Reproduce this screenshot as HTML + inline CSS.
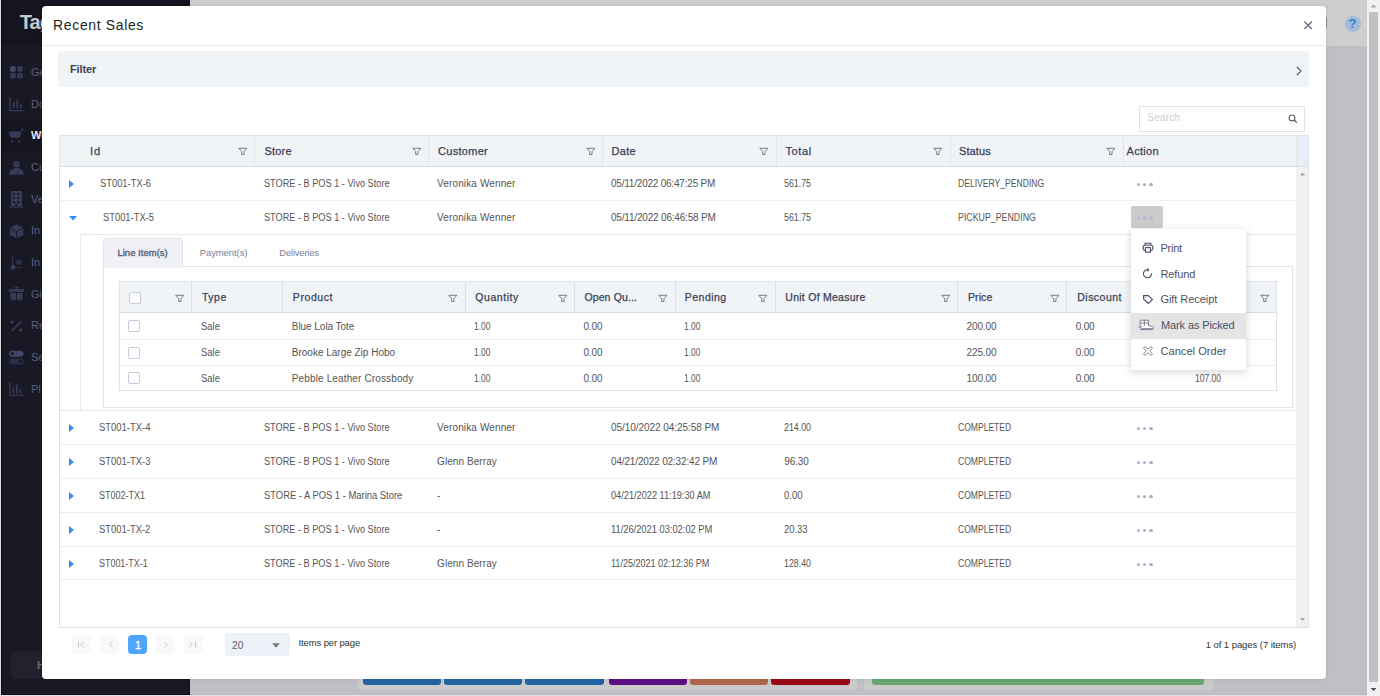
<!DOCTYPE html>
<html><head><meta charset="utf-8"><title>Recent Sales</title>
<style>
*{box-sizing:border-box;margin:0;padding:0}
html,body{width:1380px;height:696px;overflow:hidden;background:#bfc0c5;font-family:"Liberation Sans",sans-serif}
.a{position:absolute}
.t{position:absolute;white-space:nowrap;font-family:"Liberation Sans",sans-serif}
.hl{position:absolute;height:1px}
.vl{position:absolute;width:1px}
.fi{position:absolute;width:10px;height:9px}
.cb{position:absolute;width:12px;height:12px;border:1px solid #c9cbdc;border-radius:2px;background:#fff}
.dot{position:absolute;width:3.4px;height:3.4px;border-radius:50%;background:#aeaec2}
.pg{position:absolute;top:635px;width:19px;height:19px;border-radius:4px;background:#f9f9f9}
</style></head><body>
<!-- ============ background app (under overlay) ============ -->
<div class="a" style="left:0;top:0;width:190px;height:696px;background:#191925"></div>
<div class="a" style="left:0;top:0;width:190px;height:46px;background:#141520"></div>
<div class="a" style="left:0;top:0;width:1px;height:696px;background:#dcdee2"></div>
<div class="a" style="left:1px;top:0;width:1px;height:695px;background:#0a0a14"></div>
<div class="a" style="left:189px;top:46px;width:1px;height:649px;background:#0f0f19"></div>
<div class="a" style="left:1px;top:694px;width:189px;height:1px;background:#0a0a14"></div>
<div class="a" style="left:190px;top:694px;width:1177px;height:1px;background:#b8b9be"></div>
<div class="a" style="left:2px;top:121px;width:187px;height:31px;background:#161620"></div>
<div class="t" style="left:19.8px;top:11px;font-size:20px;font-weight:700;color:#c9c9cc;line-height:23px;letter-spacing:-1px">Tag</div>
<!-- sidebar icons -->
<svg class="a" style="left:0;top:0" width="30" height="410" viewBox="0 0 30 410">
 <g fill="#373957">
  <rect x="10" y="66" width="5.8" height="5.8" rx="1.8" fill="#43456a"/><rect x="17.2" y="66" width="5.8" height="5.8" rx="1.8"/><rect x="10" y="72.8" width="5.8" height="5.8" rx="1.8"/><rect x="17.2" y="72.8" width="5.8" height="5.8" rx="1.8"/>
  <path d="M9.3 97h1.3v13h13.2v1.3H9.3z M13 102h1.6v6.5H13z M16.5 99.5h1.6v9H16.5z M20 104h1.6v4.5H20z"/>
  <path d="M8.8 131.5h12.6l-1.6 6.3h-9.4z M21.2 131.8l1.2-2.6h1.3" /><path d="M21.3 131.5l1-2.3h1.5" stroke="#373957" stroke-width="1.1" fill="none"/><circle cx="12" cy="141.6" r="1.2"/><circle cx="19" cy="141.6" r="1.2"/>
  <circle cx="16.5" cy="164.2" r="3.3"/><path d="M9.2 174.7c0-4.4 3.2-6.6 7.3-6.6s7.3 2.2 7.3 6.6z"/>
  <path d="M11 191h11v15.4h-11z" /><path d="M9.8 206.4h13.5v1.2H9.8z"/>
  <g fill="#191925"><rect x="13" y="193" width="2" height="2"/><rect x="17.5" y="193" width="2" height="2"/><rect x="13" y="197" width="2" height="2"/><rect x="17.5" y="197" width="2" height="2"/><rect x="13" y="201" width="2" height="2"/><rect x="17.5" y="201" width="2" height="2"/><rect x="15.2" y="203.5" width="2.2" height="3"/></g>
  <path d="M16.5 224.5l6.8 3.6v6.8l-6.8 3.4-6.8-3.4v-6.8z"/><path d="M9.7 228.1l6.8 3.5 6.8-3.5M16.5 231.6v6.6" stroke="#191925" stroke-width=".9" fill="none"/>
  <rect x="12" y="255.5" width="1.2" height="11" fill="#2e2f4a"/><circle cx="13" cy="267.3" r="2.4" fill="#3d3f62"/><circle cx="19" cy="262" r="2.8" fill="#2e2f4a"/><rect x="15" y="267" width="7" height="1" fill="#2e2f4a"/>
  <path d="M9.2 289h14.6v3H9.2z M10.5 293h5.4v7.2h-5.4z M17 293h5.5v7.2H17z M14 287l2.5 2 2.5-2" />
  <path d="M11 330.5l9.8-9.8 1.2 1.2-9.8 9.8z"/><circle cx="12" cy="322" r="1.6"/><circle cx="20.6" cy="330.2" r="1.6"/>
  <rect x="9.2" y="350.7" width="14.3" height="6" rx="3" fill="#42446a"/><circle cx="12.4" cy="353.7" r="1.6" fill="#191925"/><rect x="9.2" y="358.4" width="14.3" height="6" rx="3" fill="#2a2b45"/><circle cx="20.3" cy="361.4" r="1.6" fill="#191925"/>
  <path d="M9.2 381.7h1.3v13h13v1.3H9.2z M12.6 387h1.6v6.5h-1.6z M16 384.5h1.6v9H16z M19.4 388.5h1.6v5h-1.6z"/>
 </g>
</svg>
<div class="t" style="left:31px;top:66px;font-size:11px;line-height:13px;color:#5b5e7c">Ge</div>
<div class="t" style="left:31px;top:98px;font-size:11px;line-height:13px;color:#5b5e7c">Do</div>
<div class="t" style="left:31px;top:129px;font-size:11px;line-height:13px;font-weight:700;color:#e6e6ea">Wo</div>
<div class="t" style="left:31px;top:161px;font-size:11px;line-height:13px;color:#5b5e7c">Cu</div>
<div class="t" style="left:31px;top:193px;font-size:11px;line-height:13px;color:#5b5e7c">Ve</div>
<div class="t" style="left:31px;top:224px;font-size:11px;line-height:13px;color:#5b5e7c">In</div>
<div class="t" style="left:31px;top:256px;font-size:11px;line-height:13px;color:#5b5e7c">In</div>
<div class="t" style="left:31px;top:288px;font-size:11px;line-height:13px;color:#5b5e7c">Gi</div>
<div class="t" style="left:31px;top:319px;font-size:11px;line-height:13px;color:#5b5e7c">Re</div>
<div class="t" style="left:31px;top:351px;font-size:11px;line-height:13px;color:#5b5e7c">Se</div>
<div class="t" style="left:31px;top:383px;font-size:11px;line-height:13px;color:#5b5e7c">Pl</div>
<div class="a" style="left:11px;top:651px;width:60px;height:28px;border-radius:4px;background:#22222e"></div>
<div class="t" style="left:37px;top:659px;font-size:11px;line-height:13px;font-weight:700;color:#6a6a75">H</div>
<!-- top bar -->
<div class="a" style="left:190px;top:0;width:1177px;height:46px;background:#cecece"></div>
<div class="a" style="left:190px;top:46px;width:1177px;height:1px;background:#bbbcc2"></div>
<div class="a" style="left:1326px;top:17px;width:1.3px;height:11px;border-radius:0 2px 2px 0;background:#8d8f95"></div>
<div class="a" style="left:1344.5px;top:15.5px;width:16px;height:16px;border-radius:50%;background:#a5bbd6"></div>
<div class="t" style="left:1348.5px;top:16px;font-size:13px;line-height:15px;font-weight:700;color:#2a7fdc">?</div>
<!-- bottom panels -->
<div class="a" style="left:358px;top:660px;width:499px;height:30px;border-radius:4px;background:#cacaca"></div>
<div class="a" style="left:363px;top:660px;width:78px;height:25px;border-radius:3px;background:#2264a4"></div>
<div class="a" style="left:444px;top:660px;width:78px;height:25px;border-radius:3px;background:#2264a4"></div>
<div class="a" style="left:525px;top:660px;width:79px;height:25px;border-radius:3px;background:#2264a4"></div>
<div class="a" style="left:609px;top:660px;width:78px;height:25px;border-radius:3px;background:#5c0f84"></div>
<div class="a" style="left:690px;top:660px;width:78px;height:25px;border-radius:3px;background:#b0684a"></div>
<div class="a" style="left:771px;top:660px;width:79px;height:25px;border-radius:3px;background:#990a17"></div>
<div class="a" style="left:864px;top:660px;width:349px;height:30px;border-radius:4px;background:#cacaca"></div>
<div class="a" style="left:872px;top:660px;width:332px;height:25px;border-radius:3px;background:#69a673"></div>
<div class="a" style="left:0;top:695px;width:1367px;height:1px;background:#e3e4e8"></div>
<!-- page scrollbar -->
<div class="a" style="left:1367px;top:0;width:13px;height:696px;background:#f1f1f1"></div>
<div class="a" style="left:1369px;top:12px;width:9px;height:670px;background:#c1c1c1"></div>
<svg class="a" style="left:1367px;top:0" width="13" height="696"><path d="M3.5 7.5h6l-3-3z" fill="#a3a3a3"/><path d="M3.5 688h6l-3 3z" fill="#505050"/></svg>

<!-- ============ modal ============ -->
<div class="a" style="left:42px;top:6px;width:1284px;height:673px;background:#fff;border-radius:4px;box-shadow:0 0 4px rgba(0,0,0,.10)"></div>
<div class="hl" style="left:42px;top:45px;width:1284px;background:#e8eaf0"></div>
<svg class="a" style="left:1302px;top:19px" width="12" height="12" viewBox="0 0 12 12"><path d="M2.4 2.4L10 10M10 2.4L2.4 10" stroke="#676a85" stroke-width="1.35"/></svg>
<!-- filter bar -->
<div class="a" style="left:58px;top:51px;width:1251px;height:36px;background:#f0f4f7;border-radius:3px"></div>
<svg class="a" style="left:1294px;top:64px" width="10" height="14" viewBox="0 0 10 14"><path d="M2.8 2.8L7 7l-4.2 4.2" stroke="#3d3f58" stroke-width="1.05" fill="none"/></svg>
<!-- search -->
<div class="a" style="left:1139px;top:106px;width:166px;height:26px;border:1px solid #e3e3e3;background:#fff"></div>
<svg class="a" style="left:1288px;top:114px" width="10" height="10" viewBox="0 0 10 10"><circle cx="4" cy="3.9" r="2.9" stroke="#5c5c5c" stroke-width="1.1" fill="none"/><path d="M6.1 6L8.8 8.6" stroke="#5c5c5c" stroke-width="1.3"/></svg>

<!-- main grid -->
<div class="a" style="left:59px;top:135px;width:1250px;height:493px;border:1px solid #e2e2e2;background:#fff"></div>
<div class="a" style="left:60px;top:136px;width:1237px;height:30px;background:#f0f4f7"></div>
<div class="a" style="left:1297px;top:136px;width:11px;height:30px;background:#e9edf7"></div>
<div class="hl" style="left:60px;top:166px;width:1248px;background:#dcdcdc"></div>
<div class="vl" style="left:254px;top:136px;height:30px;background:#e3e5ea"></div>
<div class="vl" style="left:428px;top:136px;height:30px;background:#e3e5ea"></div>
<div class="vl" style="left:602px;top:136px;height:30px;background:#e3e5ea"></div>
<div class="vl" style="left:776px;top:136px;height:30px;background:#e3e5ea"></div>
<div class="vl" style="left:950px;top:136px;height:30px;background:#e3e5ea"></div>
<div class="vl" style="left:1123px;top:136px;height:30px;background:#e3e5ea"></div>
<div class="vl" style="left:1296px;top:136px;height:30px;background:#e3e5ea"></div>
<!-- grid scrollbar -->
<div class="a" style="left:1296px;top:167px;width:12px;height:460px;background:#f1f1f1"></div>
<svg class="a" style="left:1297px;top:167px" width="11" height="460"><path d="M3 8.5h5l-2.5-3z" fill="#a3a3a3"/><path d="M3 451h5l-2.5 3z" fill="#a3a3a3"/></svg>
<!-- header filter icons -->
<svg class="fi" style="left:237.8px;top:147.2px" width="10" height="9" viewBox="0 0 10 9"><path d="M0.8 1.3H8.9L6 4.5V7.5H3.7V4.5Z" fill="none" stroke="#7b7b7e" stroke-width="1"/></svg>
<svg class="fi" style="left:411.8px;top:147.2px" width="10" height="9" viewBox="0 0 10 9"><path d="M0.8 1.3H8.9L6 4.5V7.5H3.7V4.5Z" fill="none" stroke="#7b7b7e" stroke-width="1"/></svg>
<svg class="fi" style="left:585.8px;top:147.2px" width="10" height="9" viewBox="0 0 10 9"><path d="M0.8 1.3H8.9L6 4.5V7.5H3.7V4.5Z" fill="none" stroke="#7b7b7e" stroke-width="1"/></svg>
<svg class="fi" style="left:759.3px;top:147.2px" width="10" height="9" viewBox="0 0 10 9"><path d="M0.8 1.3H8.9L6 4.5V7.5H3.7V4.5Z" fill="none" stroke="#7b7b7e" stroke-width="1"/></svg>
<svg class="fi" style="left:932.8px;top:147.2px" width="10" height="9" viewBox="0 0 10 9"><path d="M0.8 1.3H8.9L6 4.5V7.5H3.7V4.5Z" fill="none" stroke="#7b7b7e" stroke-width="1"/></svg>
<svg class="fi" style="left:1106.3px;top:147.2px" width="10" height="9" viewBox="0 0 10 9"><path d="M0.8 1.3H8.9L6 4.5V7.5H3.7V4.5Z" fill="none" stroke="#7b7b7e" stroke-width="1"/></svg>
<!-- row lines -->
<div class="hl" style="left:60px;top:200px;width:1236px;background:#eef0f4"></div>
<div class="hl" style="left:80px;top:234px;width:1216px;background:#e6e8ee"></div>
<div class="hl" style="left:60px;top:410px;width:1236px;background:#e6e8ee"></div>
<div class="hl" style="left:60px;top:444px;width:1236px;background:#eceef3"></div>
<div class="hl" style="left:60px;top:478px;width:1236px;background:#eceef3"></div>
<div class="hl" style="left:60px;top:512px;width:1236px;background:#eceef3"></div>
<div class="hl" style="left:60px;top:546px;width:1236px;background:#eceef3"></div>
<div class="hl" style="left:60px;top:579px;width:1236px;background:#eceef3"></div>
<div class="vl" style="left:80px;top:234px;height:176px;background:#e6e8ee"></div>
<!-- expand arrows -->
<svg class="a" style="left:60px;top:166px" width="20" height="420">
 <g fill="#2f8ff5">
  <path d="M9 14l5 4-5 4z"/>
  <path d="M9 50h8l-4 4.6z"/>
  <path d="M9 258l5 4-5 4z"/>
  <path d="M9 292l5 4-5 4z"/>
  <path d="M9 326l5 4-5 4z"/>
  <path d="M9 360l5 4-5 4z"/>
  <path d="M9 394l5 4-5 4z"/>
 </g>
</svg>
<!-- action dots -->
<div class="dot" style="left:1136.65px;top:182.55px"></div>
<div class="dot" style="left:1143.05px;top:182.55px"></div>
<div class="dot" style="left:1149.35px;top:182.55px"></div>
<div class="dot" style="left:1136.65px;top:426.55px"></div>
<div class="dot" style="left:1143.05px;top:426.55px"></div>
<div class="dot" style="left:1149.35px;top:426.55px"></div>
<div class="dot" style="left:1136.65px;top:460.55px"></div>
<div class="dot" style="left:1143.05px;top:460.55px"></div>
<div class="dot" style="left:1149.35px;top:460.55px"></div>
<div class="dot" style="left:1136.65px;top:494.55px"></div>
<div class="dot" style="left:1143.05px;top:494.55px"></div>
<div class="dot" style="left:1149.35px;top:494.55px"></div>
<div class="dot" style="left:1136.65px;top:528.55px"></div>
<div class="dot" style="left:1143.05px;top:528.55px"></div>
<div class="dot" style="left:1149.35px;top:528.55px"></div>
<div class="dot" style="left:1136.65px;top:562.55px"></div>
<div class="dot" style="left:1143.05px;top:562.55px"></div>
<div class="dot" style="left:1149.35px;top:562.55px"></div>

<!-- detail: tabstrip -->
<div class="a" style="left:103px;top:266px;width:1190px;height:142px;border:1px solid #e3e5ec;background:#fff"></div>
<div class="a" style="left:103px;top:238px;width:80px;height:30px;border:1px solid #e3e5ec;border-bottom:none;border-radius:4px 4px 0 0;background:#f0f1f6"></div>
<!-- inner grid -->
<div class="a" style="left:119px;top:281px;width:1158px;height:110px;border:1px solid #e2e2e6;background:#fff"></div>
<div class="a" style="left:120px;top:282px;width:1156px;height:30px;background:#f0f4f7"></div>
<div class="hl" style="left:120px;top:312px;width:1156px;background:#dcdcdf"></div>
<div class="vl" style="left:191px;top:282px;height:30px;background:#dedfe3"></div>
<div class="vl" style="left:282px;top:282px;height:30px;background:#dedfe3"></div>
<div class="vl" style="left:465px;top:282px;height:30px;background:#dedfe3"></div>
<div class="vl" style="left:574px;top:282px;height:30px;background:#dedfe3"></div>
<div class="vl" style="left:675px;top:282px;height:30px;background:#dedfe3"></div>
<div class="vl" style="left:775px;top:282px;height:30px;background:#dedfe3"></div>
<div class="vl" style="left:957px;top:282px;height:30px;background:#dedfe3"></div>
<div class="vl" style="left:1066px;top:282px;height:30px;background:#dedfe3"></div>
<div class="vl" style="left:1183px;top:282px;height:30px;background:#dedfe3"></div>
<svg class="fi" style="left:174.8px;top:293.5px" width="10" height="9" viewBox="0 0 10 9"><path d="M0.8 1.3H8.9L6 4.5V7.5H3.7V4.5Z" fill="none" stroke="#7b7b7e" stroke-width="1"/></svg>
<svg class="fi" style="left:447.8px;top:293.5px" width="10" height="9" viewBox="0 0 10 9"><path d="M0.8 1.3H8.9L6 4.5V7.5H3.7V4.5Z" fill="none" stroke="#7b7b7e" stroke-width="1"/></svg>
<svg class="fi" style="left:557.8px;top:293.5px" width="10" height="9" viewBox="0 0 10 9"><path d="M0.8 1.3H8.9L6 4.5V7.5H3.7V4.5Z" fill="none" stroke="#7b7b7e" stroke-width="1"/></svg>
<svg class="fi" style="left:657.8px;top:293.5px" width="10" height="9" viewBox="0 0 10 9"><path d="M0.8 1.3H8.9L6 4.5V7.5H3.7V4.5Z" fill="none" stroke="#7b7b7e" stroke-width="1"/></svg>
<svg class="fi" style="left:757.8px;top:293.5px" width="10" height="9" viewBox="0 0 10 9"><path d="M0.8 1.3H8.9L6 4.5V7.5H3.7V4.5Z" fill="none" stroke="#7b7b7e" stroke-width="1"/></svg>
<svg class="fi" style="left:940.8px;top:293.5px" width="10" height="9" viewBox="0 0 10 9"><path d="M0.8 1.3H8.9L6 4.5V7.5H3.7V4.5Z" fill="none" stroke="#7b7b7e" stroke-width="1"/></svg>
<svg class="fi" style="left:1050.3px;top:293.5px" width="10" height="9" viewBox="0 0 10 9"><path d="M0.8 1.3H8.9L6 4.5V7.5H3.7V4.5Z" fill="none" stroke="#7b7b7e" stroke-width="1"/></svg>
<svg class="fi" style="left:1173.8px;top:293.5px" width="10" height="9" viewBox="0 0 10 9"><path d="M0.8 1.3H8.9L6 4.5V7.5H3.7V4.5Z" fill="none" stroke="#7b7b7e" stroke-width="1"/></svg>
<svg class="fi" style="left:1260.3px;top:293.5px" width="10" height="9" viewBox="0 0 10 9"><path d="M0.8 1.3H8.9L6 4.5V7.5H3.7V4.5Z" fill="none" stroke="#7b7b7e" stroke-width="1"/></svg>
<div class="hl" style="left:120px;top:339px;width:1156px;background:#eceef3"></div>
<div class="hl" style="left:120px;top:365px;width:1156px;background:#eceef3"></div>
<div class="cb" style="left:129px;top:292px"></div>
<div class="cb" style="left:128px;top:320px"></div>
<div class="cb" style="left:128px;top:347px"></div>
<div class="cb" style="left:128px;top:372px"></div>

<!-- action menu -->
<div class="a" style="left:1131px;top:206px;width:32px;height:22px;border-radius:2px;background:#cbcbcb"></div>
<div class="dot" style="left:1136.7px;top:216.3px;background:#b9b9d0"></div>
<div class="dot" style="left:1143px;top:216.3px;background:#b9b9d0"></div>
<div class="dot" style="left:1149.4px;top:216.3px;background:#b9b9d0"></div>
<div class="a" style="left:1131px;top:229px;width:115px;height:141px;background:#fff;box-shadow:0 2px 8px rgba(0,0,0,.17)"></div>
<div class="a" style="left:1131px;top:313px;width:115px;height:25.5px;background:#e4e4e4"></div>
<svg class="a" style="left:1142px;top:242px" width="12" height="12" viewBox="0 0 12 12" fill="none" stroke="#4a4d63" stroke-width="1.1">
 <path d="M3 3V1.3h5.8V3"/><rect x="1.2" y="3.2" width="9.6" height="5.2" rx="1.6"/><rect x="3.5" y="5.6" width="4.9" height="4.6" fill="#fff"/>
</svg>
<svg class="a" style="left:1142px;top:268px" width="12" height="12" viewBox="0 0 12 12" fill="none" stroke="#4a4d63" stroke-width="1.1">
 <path d="M9.4 5.2a4 4 0 1 1 -3.2 -3.4"/><path d="M5 0.8l1.6 1.1-1.3 1.4"/>
</svg>
<svg class="a" style="left:1142px;top:294px" width="12" height="12" viewBox="0 0 12 12" fill="none" stroke="#4a4d63" stroke-width="1.1">
 <path d="M1.6 5V1.6h4.6l4.2 3.8-4 4.1z"/><circle cx="3.7" cy="3.6" r=".5" fill="#4a4d63" stroke="none"/>
</svg>
<svg class="a" style="left:1138px;top:319px" width="17" height="12" viewBox="0 0 17 12" fill="none" stroke="#6f7183" stroke-width=".9">
 <path d="M2.2 1.2h8.2v6.5H2.2z M6.3 1.2v6.5 M2.2 4h8.2" fill="#fff"/><path d="M0.6 8.2c1.4 .1 2.5 .8 4 1.5h10.6c.6-1 .1-2-1.6-2.3l-3.6-1.1" fill="#fff"/><path d="M2 10.6h12.8"/>
</svg>
<svg class="a" style="left:1142px;top:345px" width="12" height="12" viewBox="0 0 12 12" fill="none" stroke="#6f7183" stroke-width=".9">
 <path d="M1.5 3.2L3.2 1.5 6 4.3 8.8 1.5 10.5 3.2 7.7 6 10.5 8.8 8.8 10.5 6 7.7 3.2 10.5 1.5 8.8 4.3 6Z" stroke-linejoin="round"/>
</svg>

<!-- pager -->
<div class="pg" style="left:72px"></div>
<div class="pg" style="left:100px"></div>
<div class="pg" style="left:128px;background:#4fa4fb"></div>
<div class="pg" style="left:156px"></div>
<div class="pg" style="left:184px"></div>
<svg class="a" style="left:72px;top:635px" width="132" height="19">
 <g fill="none" stroke="#c4c4c4" stroke-width="1">
  <path d="M6.5 6.5v6M12 6.5l-3 3 3 3"/>
  <path d="M40.5 6.5l-3 3 3 3"/>
  <path d="M92.5 6.5l3 3-3 3"/>
  <path d="M117 6.5l3 3-3 3M123.5 6.5v6"/>
 </g>
</svg>
<div class="a" style="left:225px;top:633px;width:65px;height:23px;border-radius:3px;background:#eef2f8"></div>
<svg class="a" style="left:271px;top:642px" width="10" height="7"><path d="M1.2 1.2h7.6l-3.8 4.6z" fill="#7a7a7a"/></svg>

<span class="t" style="left:53.10px;top:17.25px;font-size:14px;line-height:17px;font-weight:400;color:#1e1e1e;letter-spacing:0.630px;">Recent Sales</span>
<span class="t" style="left:70.00px;top:62.69px;font-size:11px;line-height:13px;font-weight:700;color:#3d3f58;letter-spacing:-0.102px;">Filter</span>
<span class="t" style="left:1147.30px;top:112.33px;font-size:10px;line-height:12px;font-weight:400;color:#cdcdcd;letter-spacing:0.215px;">Search</span>
<span class="t" style="left:90.00px;top:144.69px;font-size:11px;line-height:13px;font-weight:400;color:#3b3e57;letter-spacing:0.944px;-webkit-text-stroke:0.25px #3b3e57;">Id</span>
<span class="t" style="left:264.40px;top:144.69px;font-size:11px;line-height:13px;font-weight:400;color:#3b3e57;letter-spacing:0.207px;-webkit-text-stroke:0.25px #3b3e57;">Store</span>
<span class="t" style="left:438.10px;top:144.69px;font-size:11px;line-height:13px;font-weight:400;color:#3b3e57;letter-spacing:0.283px;-webkit-text-stroke:0.25px #3b3e57;">Customer</span>
<span class="t" style="left:611.60px;top:144.69px;font-size:11px;line-height:13px;font-weight:400;color:#3b3e57;letter-spacing:0.294px;-webkit-text-stroke:0.25px #3b3e57;">Date</span>
<span class="t" style="left:785.50px;top:144.69px;font-size:11px;line-height:13px;font-weight:400;color:#3b3e57;letter-spacing:0.602px;-webkit-text-stroke:0.25px #3b3e57;">Total</span>
<span class="t" style="left:959.00px;top:144.69px;font-size:11px;line-height:13px;font-weight:400;color:#3b3e57;letter-spacing:0.103px;-webkit-text-stroke:0.25px #3b3e57;">Status</span>
<span class="t" style="left:1126.60px;top:144.69px;font-size:11px;line-height:13px;font-weight:400;color:#3b3e57;letter-spacing:0.269px;-webkit-text-stroke:0.25px #3b3e57;">Action</span>
<span class="t" style="left:99.50px;top:177.53px;font-size:10px;line-height:12px;font-weight:400;color:#555555;letter-spacing:0.000px;transform:scaleX(0.936);transform-origin:0 0;">ST001-TX-6</span>
<span class="t" style="left:263.70px;top:177.53px;font-size:10px;line-height:12px;font-weight:400;color:#555555;letter-spacing:0.000px;transform:scaleX(0.917);transform-origin:0 0;">STORE - B POS 1 - Vivo Store</span>
<span class="t" style="left:437.10px;top:177.53px;font-size:10px;line-height:12px;font-weight:400;color:#555555;letter-spacing:0.122px;">Veronika Wenner</span>
<span class="t" style="left:611.00px;top:177.53px;font-size:10px;line-height:12px;font-weight:400;color:#555555;letter-spacing:-0.212px;">05/11/2022 06:47:25 PM</span>
<span class="t" style="left:784.30px;top:177.53px;font-size:10px;line-height:12px;font-weight:400;color:#555555;letter-spacing:0.000px;transform:scaleX(0.883);transform-origin:0 0;">561.75</span>
<span class="t" style="left:957.70px;top:177.53px;font-size:10px;line-height:12px;font-weight:400;color:#555555;letter-spacing:0.000px;transform:scaleX(0.858);transform-origin:0 0;">DELIVERY_PENDING</span>
<span class="t" style="left:103.00px;top:211.53px;font-size:10px;line-height:12px;font-weight:400;color:#555555;letter-spacing:0.000px;transform:scaleX(0.936);transform-origin:0 0;">ST001-TX-5</span>
<span class="t" style="left:263.70px;top:211.53px;font-size:10px;line-height:12px;font-weight:400;color:#555555;letter-spacing:0.000px;transform:scaleX(0.917);transform-origin:0 0;">STORE - B POS 1 - Vivo Store</span>
<span class="t" style="left:437.10px;top:211.53px;font-size:10px;line-height:12px;font-weight:400;color:#555555;letter-spacing:0.122px;">Veronika Wenner</span>
<span class="t" style="left:611.00px;top:211.53px;font-size:10px;line-height:12px;font-weight:400;color:#555555;letter-spacing:-0.189px;">05/11/2022 06:46:58 PM</span>
<span class="t" style="left:784.30px;top:211.53px;font-size:10px;line-height:12px;font-weight:400;color:#555555;letter-spacing:0.000px;transform:scaleX(0.883);transform-origin:0 0;">561.75</span>
<span class="t" style="left:957.70px;top:211.53px;font-size:10px;line-height:12px;font-weight:400;color:#555555;letter-spacing:0.000px;transform:scaleX(0.881);transform-origin:0 0;">PICKUP_PENDING</span>
<span class="t" style="left:99.30px;top:421.54px;font-size:10px;line-height:12px;font-weight:400;color:#555555;letter-spacing:0.000px;transform:scaleX(0.945);transform-origin:0 0;">ST001-TX-4</span>
<span class="t" style="left:263.70px;top:421.54px;font-size:10px;line-height:12px;font-weight:400;color:#555555;letter-spacing:0.000px;transform:scaleX(0.917);transform-origin:0 0;">STORE - B POS 1 - Vivo Store</span>
<span class="t" style="left:437.10px;top:421.54px;font-size:10px;line-height:12px;font-weight:400;color:#555555;letter-spacing:0.122px;">Veronika Wenner</span>
<span class="t" style="left:611.00px;top:421.54px;font-size:10px;line-height:12px;font-weight:400;color:#555555;letter-spacing:-0.057px;">05/10/2022 04:25:58 PM</span>
<span class="t" style="left:784.30px;top:421.54px;font-size:10px;line-height:12px;font-weight:400;color:#555555;letter-spacing:0.000px;transform:scaleX(0.880);transform-origin:0 0;">214.00</span>
<span class="t" style="left:957.70px;top:421.54px;font-size:10px;line-height:12px;font-weight:400;color:#555555;letter-spacing:0.000px;transform:scaleX(0.855);transform-origin:0 0;">COMPLETED</span>
<span class="t" style="left:99.30px;top:455.54px;font-size:10px;line-height:12px;font-weight:400;color:#555555;letter-spacing:0.000px;transform:scaleX(0.945);transform-origin:0 0;">ST001-TX-3</span>
<span class="t" style="left:263.70px;top:455.54px;font-size:10px;line-height:12px;font-weight:400;color:#555555;letter-spacing:0.000px;transform:scaleX(0.917);transform-origin:0 0;">STORE - B POS 1 - Vivo Store</span>
<span class="t" style="left:437.10px;top:455.54px;font-size:10px;line-height:12px;font-weight:400;color:#555555;letter-spacing:0.071px;">Glenn Berray</span>
<span class="t" style="left:611.00px;top:455.54px;font-size:10px;line-height:12px;font-weight:400;color:#555555;letter-spacing:-0.152px;">04/21/2022 02:32:42 PM</span>
<span class="t" style="left:784.30px;top:455.54px;font-size:10px;line-height:12px;font-weight:400;color:#555555;letter-spacing:-0.116px;">96.30</span>
<span class="t" style="left:957.70px;top:455.54px;font-size:10px;line-height:12px;font-weight:400;color:#555555;letter-spacing:0.000px;transform:scaleX(0.855);transform-origin:0 0;">COMPLETED</span>
<span class="t" style="left:99.30px;top:489.54px;font-size:10px;line-height:12px;font-weight:400;color:#555555;letter-spacing:0.000px;transform:scaleX(0.900);transform-origin:0 0;">ST002-TX1</span>
<span class="t" style="left:263.70px;top:489.54px;font-size:10px;line-height:12px;font-weight:400;color:#555555;letter-spacing:0.000px;transform:scaleX(0.940);transform-origin:0 0;">STORE - A POS 1 - Marina Store</span>
<span class="t" style="left:437.10px;top:489.54px;font-size:10px;line-height:12px;font-weight:400;color:#555555;letter-spacing:0.000px;">-</span>
<span class="t" style="left:611.00px;top:489.54px;font-size:10px;line-height:12px;font-weight:400;color:#555555;letter-spacing:0.000px;transform:scaleX(0.919);transform-origin:0 0;">04/21/2022 11:19:30 AM</span>
<span class="t" style="left:784.30px;top:489.54px;font-size:10px;line-height:12px;font-weight:400;color:#555555;letter-spacing:0.000px;transform:scaleX(0.955);transform-origin:0 0;">0.00</span>
<span class="t" style="left:957.70px;top:489.54px;font-size:10px;line-height:12px;font-weight:400;color:#555555;letter-spacing:0.000px;transform:scaleX(0.855);transform-origin:0 0;">COMPLETED</span>
<span class="t" style="left:99.30px;top:523.53px;font-size:10px;line-height:12px;font-weight:400;color:#555555;letter-spacing:0.000px;transform:scaleX(0.942);transform-origin:0 0;">ST001-TX-2</span>
<span class="t" style="left:263.70px;top:523.53px;font-size:10px;line-height:12px;font-weight:400;color:#555555;letter-spacing:0.000px;transform:scaleX(0.917);transform-origin:0 0;">STORE - B POS 1 - Vivo Store</span>
<span class="t" style="left:437.10px;top:523.53px;font-size:10px;line-height:12px;font-weight:400;color:#555555;letter-spacing:0.000px;">-</span>
<span class="t" style="left:611.00px;top:523.53px;font-size:10px;line-height:12px;font-weight:400;color:#555555;letter-spacing:0.000px;transform:scaleX(0.931);transform-origin:0 0;">11/26/2021 03:02:02 PM</span>
<span class="t" style="left:784.30px;top:523.53px;font-size:10px;line-height:12px;font-weight:400;color:#555555;letter-spacing:0.000px;transform:scaleX(0.943);transform-origin:0 0;">20.33</span>
<span class="t" style="left:957.70px;top:523.53px;font-size:10px;line-height:12px;font-weight:400;color:#555555;letter-spacing:0.000px;transform:scaleX(0.855);transform-origin:0 0;">COMPLETED</span>
<span class="t" style="left:99.30px;top:557.53px;font-size:10px;line-height:12px;font-weight:400;color:#555555;letter-spacing:0.000px;transform:scaleX(0.893);transform-origin:0 0;">ST001-TX-1</span>
<span class="t" style="left:263.70px;top:557.53px;font-size:10px;line-height:12px;font-weight:400;color:#555555;letter-spacing:0.000px;transform:scaleX(0.917);transform-origin:0 0;">STORE - B POS 1 - Vivo Store</span>
<span class="t" style="left:437.10px;top:557.53px;font-size:10px;line-height:12px;font-weight:400;color:#555555;letter-spacing:0.071px;">Glenn Berray</span>
<span class="t" style="left:611.00px;top:557.53px;font-size:10px;line-height:12px;font-weight:400;color:#555555;letter-spacing:0.000px;transform:scaleX(0.904);transform-origin:0 0;">11/25/2021 02:12:36 PM</span>
<span class="t" style="left:784.30px;top:557.53px;font-size:10px;line-height:12px;font-weight:400;color:#555555;letter-spacing:0.000px;transform:scaleX(0.880);transform-origin:0 0;">128.40</span>
<span class="t" style="left:957.70px;top:557.53px;font-size:10px;line-height:12px;font-weight:400;color:#555555;letter-spacing:0.000px;transform:scaleX(0.855);transform-origin:0 0;">COMPLETED</span>
<span class="t" style="left:117.40px;top:247.01px;font-size:9.5px;line-height:11px;font-weight:400;color:#5a607a;letter-spacing:0.019px;-webkit-text-stroke:0.35px #5a607a;">Line Item(s)</span>
<span class="t" style="left:199.70px;top:247.01px;font-size:9.5px;line-height:11px;font-weight:400;color:#7a8099;letter-spacing:-0.089px;">Payment(s)</span>
<span class="t" style="left:279.30px;top:247.01px;font-size:9.5px;line-height:11px;font-weight:400;color:#7a8099;letter-spacing:-0.217px;">Deliveries</span>
<span class="t" style="left:201.90px;top:290.86px;font-size:10.5px;line-height:13px;font-weight:400;color:#3b3e57;letter-spacing:0.559px;-webkit-text-stroke:0.25px #3b3e57;">Type</span>
<span class="t" style="left:292.80px;top:290.86px;font-size:10.5px;line-height:13px;font-weight:400;color:#3b3e57;letter-spacing:0.589px;-webkit-text-stroke:0.25px #3b3e57;">Product</span>
<span class="t" style="left:475.30px;top:290.86px;font-size:10.5px;line-height:13px;font-weight:400;color:#3b3e57;letter-spacing:0.550px;-webkit-text-stroke:0.25px #3b3e57;">Quantity</span>
<span class="t" style="left:584.40px;top:290.86px;font-size:10.5px;line-height:13px;font-weight:400;color:#3b3e57;letter-spacing:0.128px;-webkit-text-stroke:0.25px #3b3e57;">Open Qu...</span>
<span class="t" style="left:684.80px;top:290.86px;font-size:10.5px;line-height:13px;font-weight:400;color:#3b3e57;letter-spacing:0.468px;-webkit-text-stroke:0.25px #3b3e57;">Pending</span>
<span class="t" style="left:785.30px;top:290.86px;font-size:10.5px;line-height:13px;font-weight:400;color:#3b3e57;letter-spacing:0.264px;-webkit-text-stroke:0.25px #3b3e57;">Unit Of Measure</span>
<span class="t" style="left:967.90px;top:290.86px;font-size:10.5px;line-height:13px;font-weight:400;color:#3b3e57;letter-spacing:0.129px;-webkit-text-stroke:0.25px #3b3e57;">Price</span>
<span class="t" style="left:1077.30px;top:290.86px;font-size:10.5px;line-height:13px;font-weight:400;color:#3b3e57;letter-spacing:0.467px;-webkit-text-stroke:0.25px #3b3e57;">Discount</span>
<span class="t" style="left:200.80px;top:320.54px;font-size:10px;line-height:12px;font-weight:400;color:#555555;letter-spacing:0.000px;transform:scaleX(0.949);transform-origin:0 0;">Sale</span>
<span class="t" style="left:291.80px;top:320.54px;font-size:10px;line-height:12px;font-weight:400;color:#555555;letter-spacing:-0.047px;">Blue Lola Tote</span>
<span class="t" style="left:474.30px;top:320.54px;font-size:10px;line-height:12px;font-weight:400;color:#555555;letter-spacing:0.000px;transform:scaleX(0.839);transform-origin:0 0;">1.00</span>
<span class="t" style="left:583.40px;top:320.54px;font-size:10px;line-height:12px;font-weight:400;color:#555555;letter-spacing:-0.134px;">0.00</span>
<span class="t" style="left:684.00px;top:320.54px;font-size:10px;line-height:12px;font-weight:400;color:#555555;letter-spacing:0.000px;transform:scaleX(0.839);transform-origin:0 0;">1.00</span>
<span class="t" style="left:966.60px;top:320.54px;font-size:10px;line-height:12px;font-weight:400;color:#555555;letter-spacing:-0.145px;">200.00</span>
<span class="t" style="left:1075.70px;top:320.54px;font-size:10px;line-height:12px;font-weight:400;color:#555555;letter-spacing:-0.200px;">0.00</span>
<span class="t" style="left:200.80px;top:346.54px;font-size:10px;line-height:12px;font-weight:400;color:#555555;letter-spacing:0.000px;transform:scaleX(0.949);transform-origin:0 0;">Sale</span>
<span class="t" style="left:291.80px;top:346.54px;font-size:10px;line-height:12px;font-weight:400;color:#555555;letter-spacing:-0.007px;">Brooke Large Zip Hobo</span>
<span class="t" style="left:474.30px;top:346.54px;font-size:10px;line-height:12px;font-weight:400;color:#555555;letter-spacing:0.000px;transform:scaleX(0.839);transform-origin:0 0;">1.00</span>
<span class="t" style="left:583.40px;top:346.54px;font-size:10px;line-height:12px;font-weight:400;color:#555555;letter-spacing:-0.134px;">0.00</span>
<span class="t" style="left:684.00px;top:346.54px;font-size:10px;line-height:12px;font-weight:400;color:#555555;letter-spacing:0.000px;transform:scaleX(0.839);transform-origin:0 0;">1.00</span>
<span class="t" style="left:966.60px;top:346.54px;font-size:10px;line-height:12px;font-weight:400;color:#555555;letter-spacing:-0.145px;">225.00</span>
<span class="t" style="left:1075.70px;top:346.54px;font-size:10px;line-height:12px;font-weight:400;color:#555555;letter-spacing:-0.200px;">0.00</span>
<span class="t" style="left:200.80px;top:372.54px;font-size:10px;line-height:12px;font-weight:400;color:#555555;letter-spacing:0.000px;transform:scaleX(0.949);transform-origin:0 0;">Sale</span>
<span class="t" style="left:291.80px;top:372.54px;font-size:10px;line-height:12px;font-weight:400;color:#555555;letter-spacing:0.134px;">Pebble Leather Crossbody</span>
<span class="t" style="left:474.30px;top:372.54px;font-size:10px;line-height:12px;font-weight:400;color:#555555;letter-spacing:0.000px;transform:scaleX(0.839);transform-origin:0 0;">1.00</span>
<span class="t" style="left:583.40px;top:372.54px;font-size:10px;line-height:12px;font-weight:400;color:#555555;letter-spacing:-0.134px;">0.00</span>
<span class="t" style="left:684.00px;top:372.54px;font-size:10px;line-height:12px;font-weight:400;color:#555555;letter-spacing:0.000px;transform:scaleX(0.839);transform-origin:0 0;">1.00</span>
<span class="t" style="left:966.60px;top:372.54px;font-size:10px;line-height:12px;font-weight:400;color:#555555;letter-spacing:-0.145px;">100.00</span>
<span class="t" style="left:1075.70px;top:372.54px;font-size:10px;line-height:12px;font-weight:400;color:#555555;letter-spacing:-0.200px;">0.00</span>
<span class="t" style="left:1194.70px;top:372.54px;font-size:10px;line-height:12px;font-weight:400;color:#555555;letter-spacing:0.000px;transform:scaleX(0.854);transform-origin:0 0;">107.00</span>
<span class="t" style="left:1160.50px;top:241.69px;font-size:11px;line-height:13px;font-weight:400;color:#4d5065;letter-spacing:-0.265px;">Print</span>
<span class="t" style="left:1160.50px;top:267.69px;font-size:11px;line-height:13px;font-weight:400;color:#4d5065;letter-spacing:-0.131px;">Refund</span>
<span class="t" style="left:1160.50px;top:293.19px;font-size:11px;line-height:13px;font-weight:400;color:#4d5065;letter-spacing:-0.064px;">Gift Receipt</span>
<span class="t" style="left:1161.00px;top:319.09px;font-size:11px;line-height:13px;font-weight:400;color:#4d5065;letter-spacing:-0.113px;">Mark as Picked</span>
<span class="t" style="left:1160.50px;top:344.69px;font-size:11px;line-height:13px;font-weight:400;color:#4d5065;letter-spacing:0.050px;">Cancel Order</span>
<span class="t" style="left:232.10px;top:639.29px;font-size:11px;line-height:13px;font-weight:400;color:#5a5a5a;letter-spacing:0.000px;transform:scaleX(0.924);transform-origin:0 0;">20</span>
<span class="t" style="left:298.60px;top:637.41px;font-size:9.5px;line-height:11px;font-weight:400;color:#333;letter-spacing:-0.137px;">Items per page</span>
<span class="t" style="left:1205.70px;top:638.61px;font-size:9.5px;line-height:11px;font-weight:400;color:#333;letter-spacing:-0.063px;">1 of 1 pages (7 items)</span>
<span class="t" style="left:135.00px;top:638.69px;font-size:11px;line-height:13px;font-weight:400;color:#fff;letter-spacing:0.000px;-webkit-text-stroke:0.3px #fff;">1</span>
</body></html>
